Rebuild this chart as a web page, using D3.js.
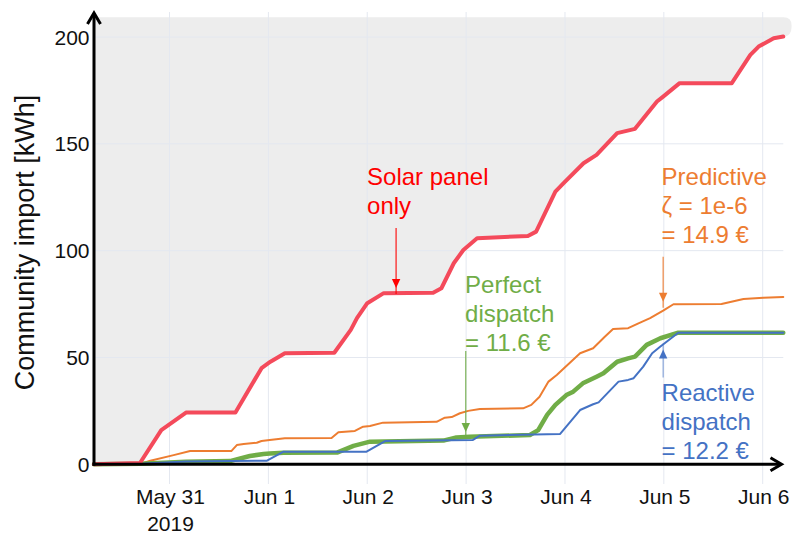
<!DOCTYPE html>
<html>
<head>
<meta charset="utf-8">
<script src="https://cdn.jsdelivr.net/npm/d3@7"></script>
<style>
  html, body { margin: 0; padding: 0; background: #fff; }
  svg { display: block; font-family: "Liberation Sans", Arial, sans-serif; }
</style>
</head>
<body>
<svg id="chart" width="799" height="533"></svg>
<script>
// Cumulative community import [kWh], one array of [time, kWh] per strategy
const solarOnly = [
  ["2019-05-30 05:40", 0], ["2019-05-30 16:50", 0.6], ["2019-05-30 22:00", 16],
  ["2019-05-31 04:00", 24.2], ["2019-05-31 16:00", 24.2], ["2019-05-31 22:20", 45],
  ["2019-06-01 00:30", 48], ["2019-06-01 04:00", 52], ["2019-06-01 16:00", 52.2],
  ["2019-06-01 20:00", 62.9], ["2019-06-01 21:30", 68.4], ["2019-06-02 00:00", 75.4],
  ["2019-06-02 04:00", 80.1], ["2019-06-02 16:00", 80.3], ["2019-06-02 18:00", 82.4],
  ["2019-06-02 21:00", 94.1], ["2019-06-02 23:20", 100.3], ["2019-06-03 02:40", 105.8],
  ["2019-06-03 15:00", 106.9], ["2019-06-03 17:00", 108.9], ["2019-06-03 21:40", 127.6],
  ["2019-06-03 23:40", 131.6], ["2019-06-04 04:30", 140.9], ["2019-06-04 07:40", 144.8],
  ["2019-06-04 12:40", 155], ["2019-06-04 17:00", 157], ["2019-06-04 22:20", 169.8],
  ["2019-06-04 23:50", 172.1], ["2019-06-05 03:50", 178.4], ["2019-06-05 16:30", 178.4],
  ["2019-06-05 21:00", 191.6], ["2019-06-05 23:00", 195.5], ["2019-06-06 02:40", 199.4],
  ["2019-06-06 05:00", 200.2]
];

const predictive = [
  ["2019-05-30 05:40", 0], ["2019-05-30 17:00", 0.2], ["2019-05-30 19:20", 1.7],
  ["2019-05-31 01:00", 4.3], ["2019-05-31 05:00", 6.2], ["2019-05-31 15:00", 6.2],
  ["2019-05-31 16:20", 9.0], ["2019-05-31 18:00", 9.5], ["2019-05-31 21:10", 10.1],
  ["2019-05-31 22:20", 10.9], ["2019-06-01 00:20", 11.4], ["2019-06-01 04:00", 12.2],
  ["2019-06-01 15:20", 12.3], ["2019-06-01 17:00", 15], ["2019-06-01 21:00", 15.6],
  ["2019-06-01 23:00", 17.6], ["2019-06-02 00:40", 17.9], ["2019-06-02 03:50", 19.5],
  ["2019-06-02 16:50", 19.9], ["2019-06-02 18:50", 21.8], ["2019-06-02 20:30", 22.1],
  ["2019-06-02 22:30", 23.9], ["2019-06-03 00:30", 25], ["2019-06-03 03:20", 25.9],
  ["2019-06-03 13:50", 26.2], ["2019-06-03 15:50", 27.8], ["2019-06-03 17:50", 31.6],
  ["2019-06-03 20:00", 38.7], ["2019-06-03 22:00", 41.8], ["2019-06-04 03:40", 52],
  ["2019-06-04 06:50", 54.3], ["2019-06-04 09:40", 59.7], ["2019-06-04 11:40", 63.3],
  ["2019-06-04 15:20", 63.7], ["2019-06-04 17:50", 66], ["2019-06-04 20:40", 68.4],
  ["2019-06-04 23:50", 71.9], ["2019-06-05 02:20", 74.9], ["2019-06-05 14:00", 75],
  ["2019-06-05 19:20", 77.4], ["2019-06-06 00:10", 78], ["2019-06-06 05:00", 78.3]
];

const perfect = [
  ["2019-05-30 05:40", 0], ["2019-05-30 17:00", 0.3], ["2019-05-31 04:00", 1.2],
  ["2019-05-31 14:40", 1.5], ["2019-05-31 19:30", 3.9], ["2019-05-31 22:50", 4.8],
  ["2019-06-01 00:20", 5.1], ["2019-06-01 03:40", 5.4], ["2019-06-01 16:40", 5.5],
  ["2019-06-01 20:40", 8.6], ["2019-06-02 00:40", 10.6], ["2019-06-02 18:30", 11.1],
  ["2019-06-02 21:40", 12.6], ["2019-06-03 00:50", 12.9], ["2019-06-03 15:30", 13.7],
  ["2019-06-03 17:30", 16], ["2019-06-03 19:40", 23.1], ["2019-06-03 21:40", 27.8],
  ["2019-06-04 00:20", 32.4], ["2019-06-04 02:00", 34], ["2019-06-04 04:20", 37.9],
  ["2019-06-04 07:40", 41], ["2019-06-04 09:20", 42.6], ["2019-06-04 12:40", 48],
  ["2019-06-04 15:20", 49.6], ["2019-06-04 17:00", 50.4], ["2019-06-04 19:50", 55.9],
  ["2019-06-04 23:10", 59], ["2019-06-05 03:30", 61.6], ["2019-06-06 05:00", 61.6]
];

const reactive = [
  ["2019-05-30 05:40", 0], ["2019-05-30 18:00", 0.4], ["2019-05-31 04:00", 1.3],
  ["2019-05-31 15:00", 1.6], ["2019-05-31 23:40", 1.7], ["2019-06-01 03:40", 5.9],
  ["2019-06-01 23:50", 5.9], ["2019-06-02 04:20", 10.9], ["2019-06-03 01:40", 11.4],
  ["2019-06-03 03:20", 13.4], ["2019-06-03 22:50", 14.2], ["2019-06-04 03:40", 25.4],
  ["2019-06-04 06:50", 28.1], ["2019-06-04 08:10", 29], ["2019-06-04 13:00", 38.7],
  ["2019-06-04 15:20", 39.5], ["2019-06-04 16:40", 40.3], ["2019-06-04 19:00", 45.7],
  ["2019-06-04 21:10", 52], ["2019-06-04 23:10", 55.1], ["2019-06-05 00:40", 57.4],
  ["2019-06-05 03:30", 61.6], ["2019-06-06 05:00", 61.6]
];

const yTicks = [0, 50, 100, 150, 200];
const xTickDays = ["2019-05-31", "2019-06-01", "2019-06-02", "2019-06-03", "2019-06-04", "2019-06-05", "2019-06-06"];
const xTickLabels = [["May 31", "2019"], ["Jun 1"], ["Jun 2"], ["Jun 3"], ["Jun 4"], ["Jun 5"], ["Jun 6"]];

// Annotation callouts: anchor point on a series, text lines, arrow direction
const annotations = [
  { series: "solar",   at: "2019-06-02 07:00", lines: ["Solar panel", "only"],                 color: "#ff0000", dir: "down" },
  { series: "perfect", at: "2019-06-02 23:55", lines: ["Perfect", "dispatch", "= 11.6 €"],     color: "#70ad47", dir: "down" },
  { series: "predict", at: "2019-06-04 23:50", lines: ["Predictive", "ζ = 1e-6", "= 14.9 €"], color: "#ed7d31", dir: "down" },
  { series: "react",   at: "2019-06-04 23:50", lines: ["Reactive", "dispatch", "= 12.2 €"],    color: "#4472c4", dir: "up" }
];

const parseT = d3.timeParse("%Y-%m-%d %H:%M");
const parseD = d3.timeParse("%Y-%m-%d");
const toPts = arr => arr.map(([t, v]) => ({ t: parseT(t), v }));

const series = {
  solar:   toPts(solarOnly),
  predict: toPts(predictive),
  perfect: toPts(perfect),
  react:   toPts(reactive)
};

const svg = d3.select("#chart");
const plot = { left: 94, right: 783.3, top: 17.3, bottom: 464.3 };

const x = d3.scaleTime()
  .domain([parseT("2019-05-30 05:40"), parseT("2019-06-06 05:00")])
  .range([plot.left, plot.right]);
const y = d3.scaleLinear().domain([0, 200]).range([464.3, 37]);

const yTopVal = y.invert(plot.top);

// value of a series at a given time (linear between samples)
function valueAt(pts, t) {
  const i = d3.bisector(d => d.t).left(pts, t);
  if (i <= 0) return pts[0].v;
  if (i >= pts.length) return pts[pts.length - 1].v;
  const a = pts[i - 1], b = pts[i];
  const f = (t - a.t) / (b.t - a.t);
  return a.v + f * (b.v - a.v);
}

// Shaded region above the solar-only curve
const solar = series.solar;
const last = solar[solar.length - 1];
const xEnd = x(last.t), yEnd = y(last.v);
const xr = x(d3.timeHour.offset(last.t, 2));
const yTop = y(yTopVal);
const rc = 8;
let shade = `M${x(solar[0].t)},${yTop} L${xr - rc},${yTop} Q${xr},${yTop} ${xr},${yTop + rc} `;
shade += `L${xr},${yTop + rc + 2} Q${xr},${yEnd} ${xEnd},${yEnd} `;
for (let i = solar.length - 2; i >= 0; i--) shade += `L${x(solar[i].t)},${y(solar[i].v)} `;
shade += "Z";
svg.append("path").attr("d", shade).attr("fill", "#ededed");

// Grid
const grid = svg.append("g").attr("stroke", "#e4e8f0").attr("stroke-width", 1);
xTickDays.forEach(d => {
  const gx = x(parseD(d));
  grid.append("line").attr("x1", gx).attr("x2", gx).attr("y1", 12).attr("y2", 484);
});
yTicks.filter(v => v > 0).forEach(v => {
  grid.append("line").attr("x1", plot.left).attr("x2", plot.right).attr("y1", y(v)).attr("y2", y(v));
});

// Series lines
const line = d3.line().x(d => x(d.t)).y(d => y(d.v));
const styles = [
  { key: "predict", color: "#ed7d31", width: 2 },
  { key: "perfect", color: "#70ad47", width: 4.5 },
  { key: "react",   color: "#4472c4", width: 2 },
  { key: "solar",   color: "#f44a5b", width: 4 }
];
styles.forEach(s => {
  svg.append("path").datum(series[s.key]).attr("d", line)
    .attr("fill", "none").attr("stroke", s.color).attr("stroke-width", s.width)
    .attr("stroke-linejoin", "round").attr("stroke-linecap", "round");
});

// Axes with arrow heads
const axis = svg.append("g").attr("stroke", "#000").attr("stroke-width", 3).attr("fill", "none")
  .attr("stroke-linecap", "butt").attr("stroke-linejoin", "miter");
axis.append("line").attr("x1", plot.left).attr("x2", plot.left).attr("y1", y(0) + 1.5).attr("y2", 13.5);
axis.append("path").attr("d", `M${plot.left - 6.5},${24} L${plot.left},${13} L${plot.left + 6.5},${24}`);
axis.append("line").attr("x1", plot.left - 1.5).attr("x2", 780.5).attr("y1", y(0)).attr("y2", y(0));
axis.append("path").attr("d", `M${770.5},${y(0) - 6.5} L${781.5},${y(0)} L${770.5},${y(0) + 6.5}`);

// Y tick labels
svg.append("g").selectAll("text").data(yTicks).join("text")
  .attr("x", 89.5).attr("y", d => y(d)).attr("dy", "0.36em")
  .attr("text-anchor", "end").attr("font-size", 21).attr("fill", "#111")
  .text(d => d);

// X tick labels
const xl = svg.append("g").attr("font-size", 21).attr("fill", "#111").attr("text-anchor", "middle");
xTickDays.forEach((d, i) => {
  const tx = x(parseD(d)) + 1;
  xTickLabels[i].forEach((s, j) => {
    xl.append("text").attr("x", tx).attr("y", 503.5 + j * 27).text(s);
  });
});

// Y axis title
svg.append("text")
  .attr("transform", `translate(34,242.5) rotate(-90)`)
  .attr("text-anchor", "middle").attr("font-size", 27).attr("fill", "#111")
  .text("Community import [kWh]");

// Callouts
const layout = {
  solar:   { dx: -29, textTop: 185, len: 60, gap: 5 },
  perfect: { dx: -0.7, textTop: 292.7, len: 81, gap: 5 },
  predict: { dx: -1.6, textTop: 185, len: 45, gap: 9 },
  react:   { dx: -1.6, textTop: 401, len: 28, gap: 5 }
};
annotations.forEach(a => {
  const t = parseT(a.at);
  const ax = x(t), ay = y(valueAt(series[a.series], t));
  const L = layout[a.series];
  const g = svg.append("g");
  const sign = a.dir === "down" ? -1 : 1;
  const tipY = ay + sign * L.gap;
  const tailY = tipY + sign * L.len;
  g.append("line").attr("x1", ax).attr("x2", ax).attr("y1", tailY).attr("y2", tipY - sign * 6)
    .attr("stroke", a.color).attr("stroke-width", 1.2).attr("opacity", a.series === "react" ? 0.6 : 0.9);
  g.append("path")
    .attr("d", `M${ax},${tipY} L${ax - 4.2},${tipY + sign * 9} L${ax + 4.2},${tipY + sign * 9} Z`)
    .attr("fill", a.color);
  a.lines.forEach((s, j) => {
    g.append("text").attr("x", ax + L.dx).attr("y", L.textTop + j * 29)
      .attr("font-size", 24).attr("fill", a.color).text(s);
  });
});
</script>
</body>
</html>
